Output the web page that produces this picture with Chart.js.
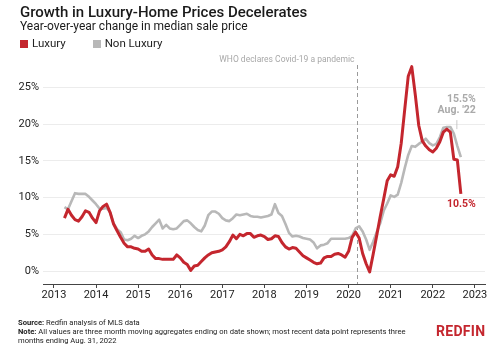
<!DOCTYPE html>
<html>
<head>
<meta charset="utf-8">
<script src="https://cdn.jsdelivr.net/npm/chart.js@4.4.0/dist/chart.umd.min.js"></script>
<style>
  body { margin: 0; width: 500px; height: 346px; background: #fff; font-family: Roboto, "Noto Sans", sans-serif; position: relative; overflow: hidden; }
  #chart { position: absolute; left: 0; top: 0; }
  .title { position: absolute; left: 20px; top: 3px; font-size: 15px; font-weight: 500; color: #1a1a1a; }
  .sub { position: absolute; left: 20px; top: 19px; font-size: 12px; color: #1a1a1a; }
  .legend { position: absolute; left: 20px; top: 36px; font-size: 11.5px; color: #222; }
  .legend span.sw { display: inline-block; width: 8px; height: 8px; vertical-align: -0.5px; margin-right: 4px; }
  .legend span.item { margin-right: 24px; }
  .foot { position: absolute; left: 18px; top: 318px; font-size: 7.6px; line-height: 9px; color: #222; }
  .logo { position: absolute; left: 436px; top: 323px; font-size: 14px; font-weight: 700; color: #c4262e; letter-spacing: 0.3px; }
</style>
</head>
<body>
<canvas id="chart" width="500" height="346"></canvas>
<div class="title">Growth in Luxury-Home Prices Decelerates</div>
<div class="sub">Year-over-year change in median sale price</div>
<div class="legend">
  <span class="item"><span class="sw" style="background:#c4262e"></span>Luxury</span>
  <span class="item"><span class="sw" style="background:#b8b8b8"></span>Non Luxury</span>
</div>
<div class="foot"><b>Source:</b> Redfin analysis of MLS data<br><b>Note:</b> All values are three month moving aggregates ending on date shown; most recent data point represents three<br>months ending Aug. 31, 2022</div>
<div class="logo">REDFIN</div>
<script>
// months run from Mar 2013 to Aug 2022, one value per month (month end)
var firstYear = 2013;
var firstMonth = 3;

var luxury = [
  7.2, 8.4, 7.6, 7.0, 6.8, 7.4, 8.2, 8.0, 7.2, 6.6,
  8.2, 8.8, 9.1, 8.0, 6.4, 5.5, 4.6, 3.8, 3.3, 3.3, 3.1, 3.0,
  2.7, 2.7, 3.0, 2.2, 1.7, 1.7, 1.6, 1.6, 1.6, 1.6, 2.2, 1.8,
  1.2, 0.9, 0.1, 0.7, 0.8, 1.3, 1.8, 2.2, 2.5, 2.6, 2.7, 2.9,
  3.3, 4.0, 4.9, 4.4, 5.0, 4.8, 5.1, 5.1, 4.6, 4.8, 4.9, 4.7,
  4.3, 4.4, 4.8, 4.7, 3.9, 3.3, 3.0, 3.2, 3.1, 2.6, 2.1, 1.8,
  1.5, 1.2, 1.0, 1.1, 1.8, 2.0, 2.0, 2.3, 2.4, 2.2, 1.9, 2.7,
  4.6, 5.3, 4.5, 2.4, 1.0, -0.1, 2.3, 4.8, 7.4, 9.8, 12.3, 13.1,
  12.9, 14.2, 17.4, 22.0, 26.5, 27.8, 24.0, 19.8, 17.7, 17.0, 16.5, 16.2,
  16.7, 17.6, 18.9, 19.3, 18.9, 15.2, 15.1, 10.5
];

var nonLuxury = [
  8.7, 8.4, 9.5, 10.6, 10.5, 10.5, 10.5, 10.1, 9.6, 9.1,
  8.5, 8.5, 8.6, 8.0, 6.5, 5.7, 5.3, 4.3, 4.2, 4.4, 4.8, 4.5,
  4.8, 5.0, 5.4, 6.0, 6.5, 7.0, 5.8, 6.3, 5.8, 5.7, 5.8, 6.3,
  6.8, 6.9, 6.5, 6.0, 5.6, 5.4, 6.2, 7.6, 8.1, 8.1, 7.8, 7.2,
  6.9, 6.8, 7.2, 7.7, 7.6, 7.7, 7.8, 7.5, 7.4, 7.4, 7.3, 7.4,
  7.5, 7.7, 9.1, 7.9, 7.5, 6.4, 5.2, 4.7, 4.8, 4.7, 4.5, 4.4,
  4.3, 3.9, 3.1, 3.5, 3.6, 3.8, 4.4, 4.4, 4.4, 4.4, 4.4, 4.5,
  4.8, 5.8, 6.1, 5.4, 4.3, 2.9, 4.0, 5.3, 6.5, 8.2, 9.2, 10.3,
  10.1, 10.4, 12.0, 14.0, 15.8, 17.0, 16.9, 17.3, 17.6, 18.0, 17.4, 17.1,
  17.3, 18.2, 19.5, 19.6, 19.6, 18.7, 17.0, 15.5
];

var yearTicks = [2013, 2014, 2015, 2016, 2017, 2018, 2019, 2020, 2021, 2022, 2023];
var pctTicks = [0, 5, 10, 15, 20, 25];
var covidDate = 2020.19;

var red = "#c4262e";
var grey = "#b8b8b8";

function toPoints(values) {
  return values.map(function (v, i) {
    var m = firstMonth + i;
    return { x: firstYear + m / 12, y: v };
  });
}

// dashed covid line + end labels
var notes = {
  id: "notes",
  beforeDatasetsDraw: function (chart) {
    var ctx = chart.ctx, xs = chart.scales.x, area = chart.chartArea;
    var x = Math.round(xs.getPixelForValue(covidDate)) + 0.5;
    ctx.save();
    ctx.strokeStyle = "#9a9a9a";
    ctx.lineWidth = 1;
    ctx.setLineDash([4, 3]);
    ctx.beginPath();
    ctx.moveTo(x, 65);
    ctx.lineTo(x, area.bottom);
    ctx.stroke();
    ctx.setLineDash([]);
    ctx.fillStyle = "#a8a8a8";
    ctx.font = "8.5px Roboto";
    ctx.textAlign = "right";
    ctx.textBaseline = "middle";
    ctx.fillText("WHO declares Covid-19 a pandemic", x - 3, 60);
    ctx.restore();
  },
  afterDatasetsDraw: function (chart) {
    var ctx = chart.ctx, xs = chart.scales.x, ys = chart.scales.y;
    var lastX = xs.getPixelForValue(firstYear + (firstMonth + luxury.length - 1) / 12);
    var gY = ys.getPixelForValue(nonLuxury[nonLuxury.length - 1]);
    var rY = ys.getPixelForValue(luxury[luxury.length - 1]);
    ctx.save();
    ctx.textAlign = "right";
    ctx.textBaseline = "middle";
    ctx.font = "bold 10.5px Roboto";
    ctx.fillStyle = "#aaaaaa";
    ctx.fillText("15.5%", lastX + 15, gY - 58);
    ctx.fillText("Aug. '22", lastX + 15, gY - 47);
    ctx.strokeStyle = "#bbbbbb";
    ctx.lineWidth = 0.8;
    ctx.beginPath();
    ctx.moveTo(lastX - 4, gY - 37);
    ctx.lineTo(lastX - 4, gY - 28);
    ctx.stroke();
    ctx.fillStyle = red;
    ctx.fillText("10.5%", lastX + 15, rY + 10);
    ctx.restore();
  }
};

var ctx = document.getElementById("chart").getContext("2d");
var chart = new Chart(ctx, {
  type: "line",
  data: {
    datasets: [
      {
        label: "Luxury",
        data: toPoints(luxury),
        borderColor: red,
        borderWidth: 3,
        pointRadius: 0,
        borderJoinStyle: "round",
        tension: 0
      },
      {
        label: "Non Luxury",
        data: toPoints(nonLuxury),
        borderColor: grey,
        borderWidth: 2.6,
        pointRadius: 0,
        borderJoinStyle: "round",
        tension: 0
      }
    ]
  },
  options: {
    responsive: false,
    animation: false,
    layout: { padding: { top: 61.5, right: 15, bottom: 42, left: 0 } },
    plugins: {
      legend: { display: false },
      tooltip: { enabled: false }
    },
    scales: {
      x: {
        type: "linear",
        min: 2012.74,
        max: 2023.24,
        afterBuildTicks: function (axis) {
          axis.ticks = yearTicks.map(function (v) { return { value: v }; });
        },
        afterFit: function (scale) { scale.height = 20; },
        ticks: {
          callback: function (v) { return String(v); },
          color: "#222",
          font: { family: "Roboto", size: 11 },
          padding: 1,
          maxRotation: 0,
          autoSkip: false
        },
        grid: { drawOnChartArea: false, drawTicks: true, tickLength: 4, color: "#444" },
        border: { display: true, color: "#444", width: 1 }
      },
      y: {
        min: -1.75,
        max: 28.5,
        afterBuildTicks: function (axis) {
          axis.ticks = pctTicks.map(function (v) { return { value: v }; });
        },
        afterFit: function (scale) { scale.width = 43; },
        ticks: {
          callback: function (v) { return v + "%"; },
          color: "#222",
          font: { family: "Roboto", size: 11 },
          padding: 4
        },
        grid: { color: "#ececec", lineWidth: 1, drawTicks: false },
        border: { display: false }
      }
    }
  },
  plugins: [notes]
});
</script>
</body>
</html>
